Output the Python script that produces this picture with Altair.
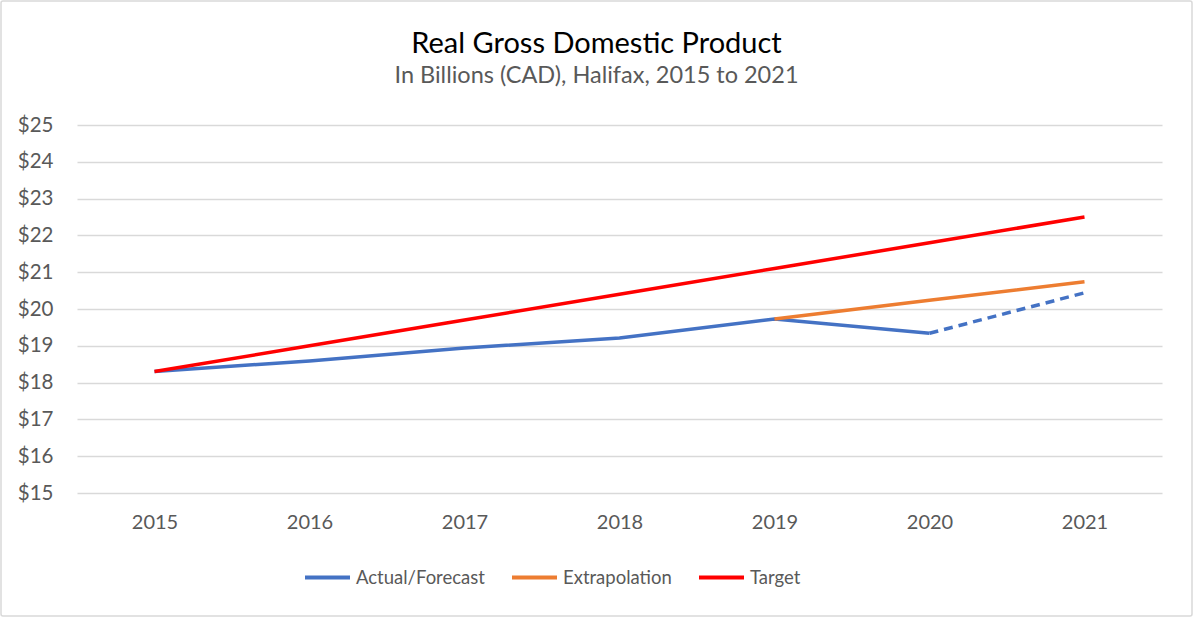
import altair as alt
import pandas as pd

years = ["2015", "2016", "2017", "2018", "2019", "2020", "2021"]
actual = [18.30, 18.59, 18.94, 19.21, 19.73, 19.34, 20.44]
extrap_years = ["2019", "2020", "2021"]
extrap = [19.73, 20.24, 20.74]
target = [18.30, 19.00, 19.70, 20.40, 21.10, 21.80, 22.50]

series_names = ["Actual/Forecast", "Extrapolation", "Target"]
series_colors = ["#4472C4", "#ED7D31", "#FF0000"]

title_text = "Real Gross Domestic Product"
subtitle_text = "In Billions (CAD), Halifax, 2015 to 2021"

rows = []
for i, (y, v) in enumerate(zip(years, actual)):
    if i <= 5:
        rows.append({"series": "Actual/Forecast", "year": y, "value": v, "part": "solid"})
    if i >= 5:
        rows.append({"series": "Actual/Forecast", "year": y, "value": v, "part": "dashed"})
for y, v in zip(extrap_years, extrap):
    rows.append({"series": "Extrapolation", "year": y, "value": v, "part": "solid"})
for y, v in zip(years, target):
    rows.append({"series": "Target", "year": y, "value": v, "part": "solid"})
df = pd.DataFrame(rows)

W, H = 1085, 368
FONT = "Lato"
GRAY = "#595959"

x_enc = alt.X("year:O", scale=alt.Scale(type="point", padding=0.5, domain=years),
              axis=alt.Axis(title=None, labelAngle=0, labelFontSize=20, labelColor=GRAY,
                            labelFont=FONT, ticks=False, domain=False, grid=False, labelPadding=19))
y_enc = alt.Y("value:Q", scale=alt.Scale(domain=[15, 25], nice=False, zero=False),
              axis=alt.Axis(title=None, values=list(range(15, 26)), format="$,.0f",
                            labelFontSize=20.5, labelColor=GRAY, labelFont=FONT, ticks=False,
                            domain=False, gridColor="#d9d9d9", gridWidth=1.5, labelPadding=24))
color_enc = alt.Color("series:N", scale=alt.Scale(domain=series_names, range=series_colors),
                      legend=alt.Legend(title=None, orient="none", legendX=226, legendY=428,
                                        direction="horizontal", symbolType="stroke",
                                        symbolStrokeWidth=4, symbolSize=2025, labelFontSize=18.5,
                                        labelColor=GRAY, labelFont=FONT, columnPadding=19,
                                        labelOffset=4))

base = alt.Chart(df)

one = pd.DataFrame({"title": [title_text], "subtitle": [subtitle_text]})

border = alt.Chart(one).mark_rect(
    fill="white", fillOpacity=0, stroke="#d9d9d9", strokeWidth=1.5, cornerRadius=2
).encode(x=alt.value(-76), x2=alt.value(W + 30), y=alt.value(-124), y2=alt.value(H + 123))

title = alt.Chart(one).mark_text(
    font=FONT, fontSize=29, color="#000000", align="center", baseline="alphabetic"
).encode(text="title:N", x=alt.value(519.5), y=alt.value(-72))

subtitle = alt.Chart(one).mark_text(
    font=FONT, fontSize=23.5, color=GRAY, align="center", baseline="alphabetic"
).encode(text="subtitle:N", x=alt.value(519.5), y=alt.value(-42))

solid = base.transform_filter(
    (alt.datum.series == "Actual/Forecast") & (alt.datum.part == "solid")
).mark_line(strokeWidth=3.5).encode(x=x_enc, y=y_enc, color=color_enc)

dashed = base.transform_filter(
    (alt.datum.series == "Actual/Forecast") & (alt.datum.part == "dashed")
).mark_line(strokeWidth=3.5, strokeDash=[9, 6]).encode(x=x_enc, y=y_enc, color=color_enc)

ext = base.transform_filter(alt.datum.series == "Extrapolation").mark_line(
    strokeWidth=3.5).encode(x=x_enc, y=y_enc, color=color_enc)

tgt = base.transform_filter(alt.datum.series == "Target").mark_line(
    strokeWidth=3.5).encode(x=x_enc, y=y_enc, color=color_enc)

chart = alt.layer(border, title, subtitle, solid, dashed, ext, tgt).properties(
    width=W, height=H,
    autosize=alt.AutoSizeParams(type="none"),
    padding={"left": 77, "top": 125, "right": 31, "bottom": 124}
).configure(background="white", view=alt.ViewConfig(stroke=None))

chart.save("out.html", embed_options={"renderer": "svg", "actions": False})
